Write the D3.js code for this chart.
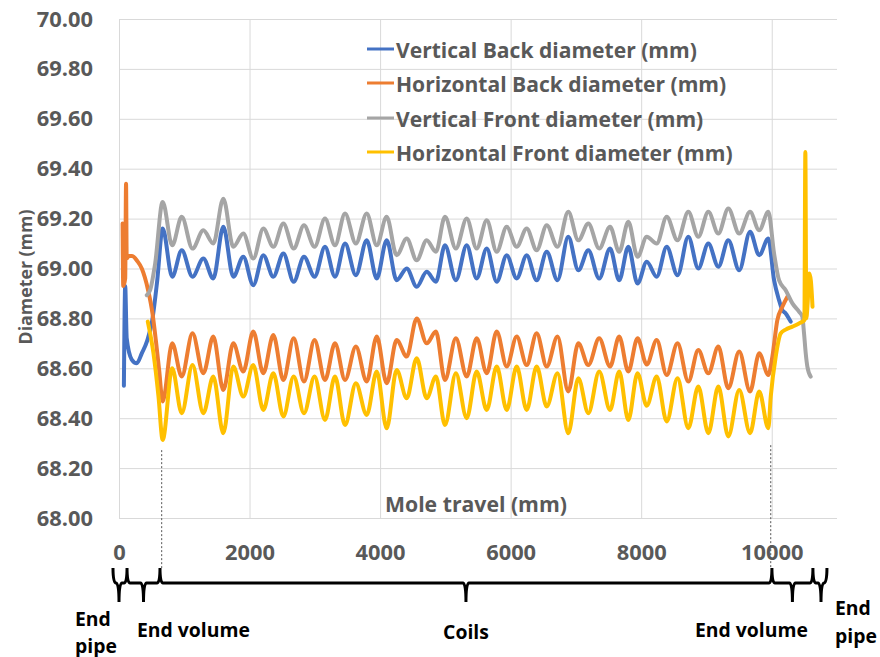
<!DOCTYPE html>
<html>
<head>
<meta charset="utf-8">
<script src="https://cdn.jsdelivr.net/npm/d3@7"></script>
<style>
  html, body { margin: 0; padding: 0; background: #ffffff; }
  svg { display: block; }
  text { font-family: "Open Sans", Lato, sans-serif; font-weight: bold; }
</style>
</head>
<body>
<svg id="chart" width="880" height="657"></svg>
<script>
// ---------------- DATA ----------------
const yTicks = [68.00, 68.20, 68.40, 68.60, 68.80, 69.00, 69.20, 69.40, 69.60, 69.80, 70.00];
const xTicks = [0, 2000, 4000, 6000, 8000, 10000];

const seriesNames = [
  "Vertical Back diameter (mm)",
  "Horizontal Back diameter (mm)",
  "Vertical Front diameter (mm)",
  "Horizontal Front diameter (mm)"
];
const seriesColors = ["#4472C4", "#ED7D31", "#A5A5A5", "#FFC000"];

// positions (mm) of alternating extremes along the coil section
const coilX = [669, 815, 961, 1126, 1292, 1445, 1598, 1751, 1904, 2057,
  2211, 2364, 2518, 2676, 2834, 2996, 3156, 3309, 3463, 3629,
  3795, 3949, 4101, 4254, 4408, 4561, 4714, 4855, 4994, 5161,
  5327, 5480, 5634, 5787, 5940, 6093, 6246, 6399, 6553, 6718,
  6883, 7037, 7190, 7357, 7523, 7663, 7803, 7944, 8085, 8238,
  8391, 8557, 8722, 8875, 9029, 9182, 9335, 9502, 9668, 9808, 9948];

const vertBackCoil = [69.16, 68.967, 69.073, 68.967, 69.04, 68.96, 69.167, 68.967, 69.047, 68.933,
  69.053, 68.967, 69.06, 68.947, 69.047, 68.967, 69.087, 68.967, 69.10, 68.973,
  69.113, 68.96, 69.113, 68.953, 69.0, 68.927, 68.987, 68.947, 69.093, 68.953,
  69.093, 68.96, 69.08, 68.947, 69.053, 68.96, 69.053, 68.953, 69.067, 68.953,
  69.127, 68.993, 69.073, 68.96, 69.08, 68.953, 69.087, 68.94, 69.027, 68.967,
  69.087, 68.973, 69.127, 69.0, 69.10, 69.007, 69.113, 68.993, 69.147, 69.053, 69.12];

const horizBackCoil = [68.467, 68.70, 68.567, 68.74, 68.58, 68.727, 68.513, 68.70, 68.587, 68.747,
  68.58, 68.733, 68.553, 68.72, 68.547, 68.713, 68.553, 68.70, 68.553, 68.687,
  68.547, 68.727, 68.54, 68.713, 68.647, 68.80, 68.70, 68.747, 68.553, 68.72,
  68.567, 68.72, 68.58, 68.747, 68.607, 68.727, 68.613, 68.74, 68.607, 68.727,
  68.507, 68.70, 68.613, 68.72, 68.607, 68.727, 68.587, 68.72, 68.615, 68.713,
  68.573, 68.70, 68.547, 68.673, 68.58, 68.687, 68.52, 68.667, 68.507, 68.66, 68.573];

const vertFrontCoil = [69.267, 69.093, 69.207, 69.08, 69.153, 69.10, 69.28, 69.087, 69.14, 69.04,
  69.16, 69.087, 69.18, 69.08, 69.173, 69.087, 69.20, 69.093, 69.22, 69.10,
  69.22, 69.093, 69.207, 69.053, 69.12, 69.033, 69.113, 69.067, 69.207, 69.08,
  69.20, 69.08, 69.193, 69.067, 69.167, 69.087, 69.16, 69.073, 69.173, 69.087,
  69.227, 69.113, 69.18, 69.08, 69.167, 69.067, 69.187, 69.047, 69.127, 69.10,
  69.207, 69.113, 69.227, 69.127, 69.227, 69.14, 69.24, 69.14, 69.227, 69.153, 69.227];

const horizFrontCoil = [68.313, 68.60, 68.42, 68.613, 68.42, 68.567, 68.34, 68.607, 68.487, 68.613,
  68.433, 68.58, 68.407, 68.567, 68.42, 68.567, 68.393, 68.567, 68.373, 68.54,
  68.413, 68.587, 68.36, 68.593, 68.48, 68.64, 68.48, 68.567, 68.373, 68.58,
  68.40, 68.587, 68.433, 68.607, 68.433, 68.607, 68.433, 68.607, 68.447, 68.58,
  68.34, 68.56, 68.42, 68.587, 68.433, 68.587, 68.393, 68.58, 68.45, 68.567,
  68.387, 68.56, 68.36, 68.527, 68.34, 68.527, 68.327, 68.513, 68.34, 68.507, 68.36];

// pipe / end-volume sections: [mm, diameter]
const vertBackStart = [[75, 68.53], [95, 68.93], [118, 68.72], [195, 68.635], [272, 68.62], [349, 68.66], [431, 68.71], [508, 68.79], [585, 68.95]];
const vertBackEnd = [[10036, 68.953], [10112, 68.873], [10163, 68.833], [10214, 68.82], [10291, 68.787]];

const horizBackStart = [[55, 69.18], [65, 68.93], [95, 68.96], [108, 69.34], [118, 69.04], [150, 69.05], [200, 69.05], [280, 69.03], [349, 69.0], [446, 68.913], [513, 68.82], [564, 68.713], [615, 68.593]];
const horizBackEnd = [[10010, 68.647], [10086, 68.793], [10163, 68.847], [10240, 68.887]];

const vertFrontStart = [[426, 68.893], [477, 68.913], [554, 69.02]];
const vertFrontEnd = [[10036, 69.06], [10112, 68.953], [10214, 68.913], [10317, 68.86], [10418, 68.827], [10469, 68.807], [10495, 68.74], [10521, 68.66], [10546, 68.607], [10597, 68.567]];

const horizFrontStart = [[441, 68.787], [528, 68.66], [605, 68.487]];
const horizFrontEnd = [[9985, 68.487], [10061, 68.647], [10138, 68.74], [10214, 68.755], [10317, 68.767], [10418, 68.78], [10500, 68.793], [10515, 69.467], [10530, 68.80], [10550, 68.86], [10576, 68.98], [10600, 68.95], [10625, 68.847]];

// section annotation below the axis (mm)
const sectionBounds = [-92, 123, 628, 10003, 10631, 10846];
const sectionLabels = ["End pipe", "End volume", "Coils", "End volume", "End pipe"];
const markerX = [654, 9985];
const markerTop = [68.28, 68.30];

// ---------------- CHART ----------------
const svg = d3.select("#chart");
const mLeft = 119, mRight = 837, mTop = 19, mBottom = 518;
const x = d3.scaleLinear().domain([0, 11000]).range([mLeft, mRight]);
const y = d3.scaleLinear().domain([68, 70]).range([mBottom, mTop]);

const grey = "#595959";
const FONT = '"Open Sans", Lato, sans-serif';

// font size that makes a given string the given pixel width
function fitSize(str, width) {
  const t = svg.append("text").style("font-family", FONT).style("font-weight", "bold")
    .style("font-size", "20px").text(str);
  const w = t.node().getComputedTextLength();
  t.remove();
  return 20 * width / w;
}
const tickFS = fitSize("2000", 50);
const legendFS = fitSize(seriesNames[0], 301);
const xTitleFS = fitSize("Mole travel (mm)", 182);
const yTitleFS = fitSize("Diameter (mm)", 135);
const annoFS = fitSize("End volume", 113);

// horizontal gridlines + y labels
const yAxis = svg.append("g").attr("transform", `translate(${mLeft},0)`)
  .call(d3.axisLeft(y).tickValues(yTicks).tickFormat(d3.format(".2f"))
    .tickSize(-(mRight - mLeft)).tickPadding(26));
yAxis.select(".domain").remove();
yAxis.selectAll(".tick line").attr("stroke", "#d9d9d9").attr("stroke-width", 1);
yAxis.selectAll(".tick text").attr("fill", grey).style("font-size", tickFS + "px")
  .style("font-family", FONT).style("font-weight", "bold");

// vertical gridlines + x labels
const xAxis = svg.append("g").attr("transform", `translate(0,${mBottom})`)
  .call(d3.axisBottom(x).tickValues(xTicks).tickFormat(d3.format("d"))
    .tickSize(-(mBottom - mTop)).tickPadding(0));
xAxis.select(".domain").remove();
xAxis.selectAll(".tick line").attr("stroke", "#d9d9d9").attr("stroke-width", 1);
xAxis.selectAll(".tick text").attr("fill", grey).attr("y", 34).attr("dy", "0.35em")
  .style("font-size", tickFS + "px").style("font-family", FONT).style("font-weight", "bold");

// axis titles
svg.append("text").attr("x", 476).attr("y", 503).attr("text-anchor", "middle")
  .attr("dominant-baseline", "central").attr("fill", grey).style("font-size", xTitleFS + "px")
  .text("Mole travel (mm)");
svg.append("text").attr("transform", "translate(25,277) rotate(-90)")
  .attr("text-anchor", "middle").attr("dominant-baseline", "central")
  .attr("fill", grey).style("font-size", yTitleFS + "px").text("Diameter (mm)");

// build series
function build(start, coil, end) {
  return start.concat(coilX.map((v, i) => [v, coil[i]]), end);
}
const series = [
  build(vertBackStart, vertBackCoil, vertBackEnd),
  build(horizBackStart, horizBackCoil, horizBackEnd),
  build(vertFrontStart, vertFrontCoil, vertFrontEnd),
  build(horizFrontStart, horizFrontCoil, horizFrontEnd)
];
const line = d3.line().x(d => x(d[0])).y(d => y(d[1])).curve(d3.curveMonotoneX);
svg.append("g").selectAll("path").data(series).join("path")
  .attr("d", line).attr("fill", "none")
  .attr("stroke", (d, i) => seriesColors[i]).attr("stroke-width", 4)
  .attr("stroke-linejoin", "round").attr("stroke-linecap", "round");

// legend
const lg = svg.append("g");
const legendY = [49, 83, 118, 152];
seriesNames.forEach((n, i) => {
  lg.append("line").attr("x1", 367).attr("x2", 394).attr("y1", legendY[i]).attr("y2", legendY[i])
    .attr("stroke", seriesColors[i]).attr("stroke-width", 3);
  lg.append("text").attr("x", 396).attr("y", legendY[i]).attr("dominant-baseline", "central")
    .attr("fill", grey).style("font-size", legendFS + "px").text(n);
});

// dotted marker lines
const yLine = 583, yUp = 568, yDown = 602;
markerX.forEach((m, i) => {
  svg.append("line").attr("x1", x(m)).attr("x2", x(m)).attr("y1", y(markerTop[i]) + 2).attr("y2", yUp)
    .attr("stroke", "#555").attr("stroke-width", 1).attr("stroke-dasharray", "2,2");
});

// curly braces for sections
const dd = 3;
const p = d3.path();
for (let i = 0; i < sectionBounds.length - 1; i++) {
  const a = x(sectionBounds[i]), b = x(sectionBounds[i + 1]);
  const m = i === 0 ? x(0) : i === sectionBounds.length - 2 ? x(10755) : (a + b) / 2;
  p.moveTo(a, yUp);
  p.quadraticCurveTo(a, yLine, a + dd, yLine);
  p.lineTo(m - dd, yLine);
  p.quadraticCurveTo(m, yLine, m, yDown);
  p.moveTo(m, yDown);
  p.quadraticCurveTo(m, yLine, m + dd, yLine);
  p.lineTo(b - dd, yLine);
  p.quadraticCurveTo(b, yLine, b, yUp);
}
svg.append("path").attr("d", p.toString()).attr("fill", "none")
  .attr("stroke", "#000").attr("stroke-width", 3).attr("stroke-linejoin", "round");

// section labels
const lab = svg.append("g").attr("fill", "#000").style("font-size", annoFS + "px");
lab.append("text").attr("x", 75).attr("y", 618).attr("dominant-baseline", "central").text("End");
lab.append("text").attr("x", 75).attr("y", 645).attr("dominant-baseline", "central").text("pipe");
lab.append("text").attr("x", 137).attr("y", 629).attr("dominant-baseline", "central").text(sectionLabels[1]);
lab.append("text").attr("x", 466).attr("y", 631).attr("text-anchor", "middle").attr("dominant-baseline", "central").text(sectionLabels[2]);
lab.append("text").attr("x", 695).attr("y", 629).attr("dominant-baseline", "central").text(sectionLabels[3]);
lab.append("text").attr("x", 835).attr("y", 607).attr("dominant-baseline", "central").text("End");
lab.append("text").attr("x", 835).attr("y", 635).attr("dominant-baseline", "central").text("pipe");
</script>
</body>
</html>
